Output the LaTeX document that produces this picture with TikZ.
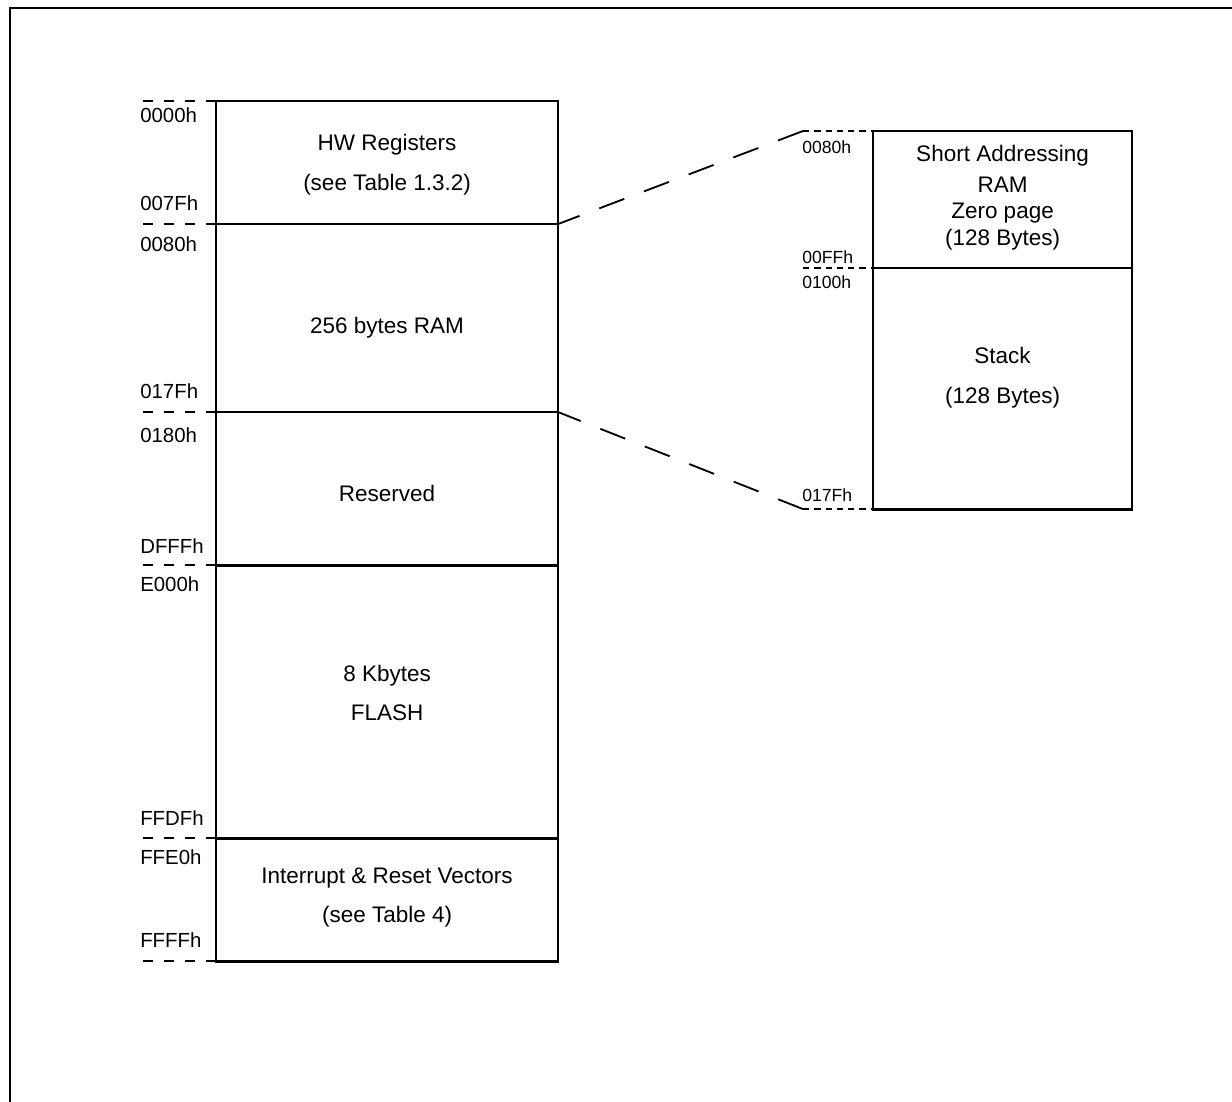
\documentclass[tikz,border=0pt]{standalone}
\usepackage{fontspec}
\setmainfont{Liberation Sans}
\usetikzlibrary{positioning,calc}

\begin{document}
\begin{tikzpicture}[
  x=0.025cm, y=-0.025cm,
  font=\fontsize{16}{28}\selectfont,
  seg/.style={draw,line width=2pt,minimum width=8.55cm,inner sep=0pt,outer sep=0pt},
  zseg/.style={seg,minimum width=6.475cm},
  txt/.style={align=center,inner sep=0pt},
  addr/.style={anchor=west,inner sep=0pt,font=\fontsize{14.5}{16}\selectfont},
  zaddr/.style={addr,font=\fontsize{12.5}{16}\selectfont},
  tick/.style={line width=1.3pt,dash pattern=on 7pt off 8pt},
  ztick/.style={line width=1.3pt,dash pattern=on 4.5pt off 3.5pt},
  zoom/.style={line width=1.3pt,dash pattern=on 19pt off 15pt}
]
  \useasboundingbox (0,0) rectangle (1232,1102);
  \draw[line width=2pt] (10,1102) -- (10,8) -- (1232,8);

  % memory map
  \node[seg,minimum height=3.075cm,anchor=north west] (hw) at (216,101) {};
  \node[seg,minimum height=4.7cm,below=0pt of hw] (ram) {};
  \node[seg,minimum height=3.825cm,below=0pt of ram] (rsv) {};
  \node[seg,minimum height=6.825cm,below=0pt of rsv] (flash) {};
  \node[seg,minimum height=3.075cm,below=0pt of flash] (vec) {};

  \node[txt] (hwtxt) at ($(hw.center)+(0,2)$) {HW Registers\\(see Table 1.3.2)};
  \node[txt] (ramtxt) at ($(ram.center)+(0,10)$) {256 bytes RAM};
  \node[txt] (rsvtxt) at ($(rsv.center)+(0,5)$) {Reserved};
  \node[txt] (flashtxt) at ($(flash.center)+(0,-9)$) {8 Kbytes\\FLASH};
  \node[txt] (vectxt) at ($(vec.center)+(0,-2)$) {Interrupt \& Reset Vectors\\(see Table 4)};

  \draw[tick] (hw.north west) -- ++(-78,0);
  \draw[tick] (hw.south west) -- ++(-78,0);
  \draw[tick] (ram.south west) -- ++(-78,0);
  \draw[tick] (rsv.south west) -- ++(-78,0);
  \draw[tick] (flash.south west) -- ++(-78,0);
  \draw[tick] (vec.south west) -- ++(-78,0);

  \node[addr] (a0) at (140,115) {0000h};
  \node[addr] (a1) at (140,203) {007Fh};
  \node[addr] (a2) at (140,244) {0080h};
  \node[addr] (a3) at (140,391) {017Fh};
  \node[addr] (a4) at (140,435) {0180h};
  \node[addr] (a5) at (140,546) {DFFFh};
  \node[addr] (a6) at (140,584) {E000h};
  \node[addr] (a7) at (140,818) {FFDFh};
  \node[addr] (a8) at (140,857) {FFE0h};
  \node[addr] (a9) at (140,940) {FFFFh};

  % RAM detail
  \node[zseg,minimum height=3.425cm,anchor=north west] (zp) at (873,131) {};
  \node[zseg,minimum height=6.025cm,below=0pt of zp] (stk) {};
  \node[txt,font=\fontsize{16}{19}\selectfont] (zptxt) at ($(zp.center)+(0,-2)$)
    {Short Addressing\\[3pt]RAM\\Zero page\\(128 Bytes)};
  \node[txt] (stktxt) at ($(stk.center)+(0,-11)$) {Stack\\(128 Bytes)};

  \coordinate (zt) at ($(zp.north west)+(-70,0)$);
  \coordinate (zm) at ($(zp.south west)+(-70,0)$);
  \coordinate (zb) at ($(stk.south west)+(-70,0)$);
  \draw[ztick] (zt) -- (zp.north west);
  \draw[ztick] (zm) -- (zp.south west);
  \draw[ztick] (zb) -- (stk.south west);

  \node[zaddr] (z0) at (802,147) {0080h};
  \node[zaddr] (z1) at (802,257) {00FFh};
  \node[zaddr] (z2) at (802,282) {0100h};
  \node[zaddr] (z3) at (802,495) {017Fh};

  \draw[zoom] (zt) -- (hw.south east);
  \draw[zoom] (zb) -- (ram.south east);
\end{tikzpicture}
\end{document}
